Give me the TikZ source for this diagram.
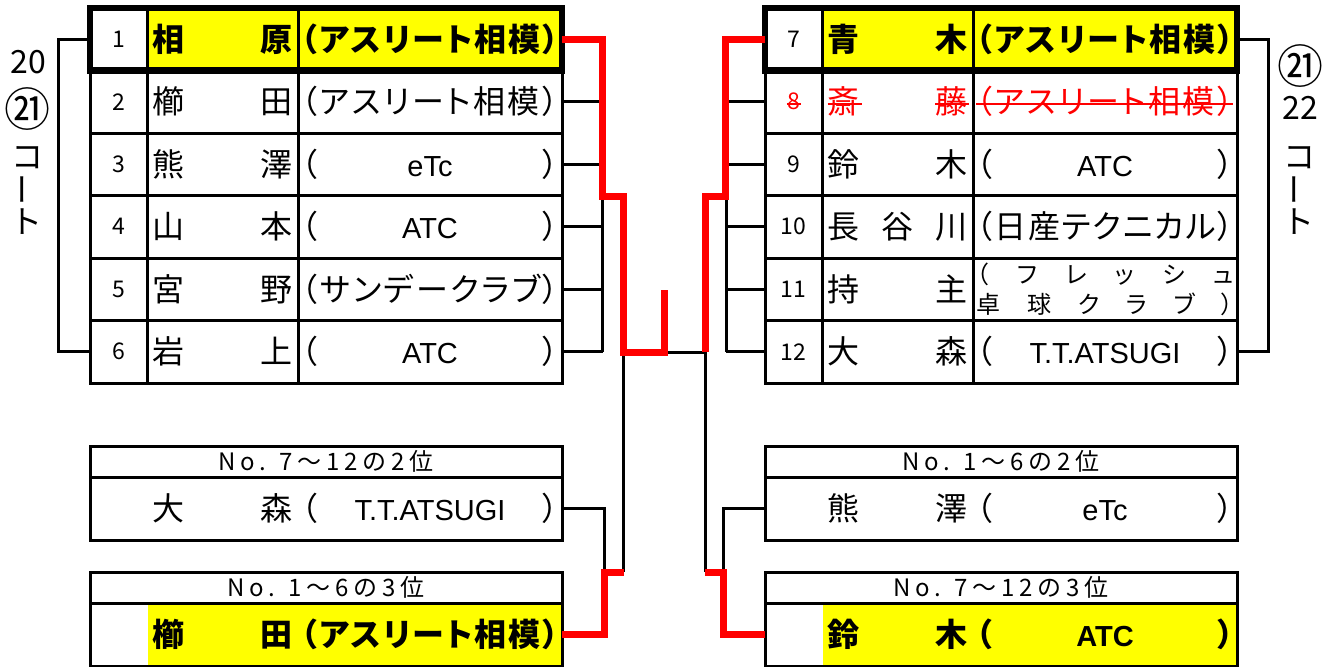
\documentclass[tikz,border=0pt]{standalone}
\usepackage{fontspec}
\setmainfont{Liberation Sans}
\newfontfamily\jp[RawFeature=+palt]{Noto Sans CJK JP}
\newfontfamily\jph[LetterSpace=20]{Noto Sans CJK JP}
\newfontfamily\latf{Liberation Sans}
\definecolor{winred}{RGB}{255,0,0}
\definecolor{hlyel}{RGB}{255,255,0}
\newcommand\lt[1]{{\latf\fontsize{29}{32}\selectfont #1}}
\newcommand\nm[1]{{\mdseries\fontsize{23}{24}\selectfont #1}}
\newcommand\asr{（\hfill ア\hfill ス\hfill リ\hfill ー\hfill ト\hfill 相\hfill 模\hfill ）}
% #1 id, #2 x, #3 y, #4 number, #5 name, #6 club, #7 fill style, #8 text style
\newcommand\trow[8]{%
  \node[cell, minimum width=57.5pt, #8] (#1n) at (#2,#3) {\nm{#4}};
  \node[cell, minimum width=150.5pt, #7, #8] (#1a) at (#2+57.5,#3) {\hbox to 140pt{#5}};
  \node[cell, minimum width=264pt, #7, #8] (#1c) at (#2+208,#3) {\hbox to 257pt{#6}};
}
\newcommand\bodytext[2]{\hbox to 472pt{\hskip 62.75pt\hbox to 140pt{#1}\hskip 8.75pt\hbox to 257pt{#2}\hfill}}
\tikzset{
  cell/.style={draw, line width=3pt, anchor=north west, inner sep=0pt, outer sep=0pt,
    minimum height=62.5pt, font=\jp\fontsize{32}{36}\selectfont},
  bcell/.style={font=\jp\bfseries\fontsize{32}{36}\selectfont},
  hl/.style={fill=hlyel},
  hdr/.style={draw, line width=3pt, anchor=north west, inner sep=0pt, outer sep=0pt,
    minimum width=472pt, minimum height=31pt, font=\jph\fontsize{24}{26}\selectfont},
  body/.style={draw, line width=3pt, anchor=north west, inner sep=0pt, outer sep=0pt,
    minimum width=472pt, minimum height=63pt, font=\jp\fontsize{32}{36}\selectfont},
  hlpart/.style={path picture={\fill[hlyel] ([xshift=57.5pt]path picture bounding box.south west) rectangle (path picture bounding box.north east);}},
  thick box/.style={draw, line width=6.5pt},
  conn/.style={draw, line width=3pt},
  win/.style={draw=winred, line width=7pt},
  court/.style={inner sep=0pt, font=\jp\fontsize{32}{36}\selectfont},
  circ/.style={inner sep=0pt, font=\jp\fontsize{46}{48}\selectfont},
  strike/.style={draw=winred, line width=1.6pt}
}
\begin{document}
\begin{tikzpicture}[x=1pt, y=-1pt]
\useasboundingbox (0,0) rectangle (1337,666);

% ---------- left table ----------
\trow{L1}{90}{8}{1}{相\hfill 原}{\asr}{hl}{bcell}
\trow{L2}{90}{70.5}{2}{櫛\hfill 田}{\asr}{}{}
\trow{L3}{90}{133}{3}{熊\hfill 澤}{（\hfill\lt{eTc}\hfill ）}{}{}
\trow{L4}{90}{195.5}{4}{山\hfill 本}{（\hfill\lt{ATC}\hfill ）}{}{}
\trow{L5}{90}{258}{5}{宮\hfill 野}{（\hfill サ\hfill ン\hfill デ\hfill ー\hfill ク\hfill ラ\hfill ブ\hfill ）}{}{}
\trow{L6}{90}{320.5}{6}{岩\hfill 上}{（\hfill\lt{ATC}\hfill ）}{}{}
\draw[thick box] (L1n.north west) rectangle (L1c.south east);

% ---------- right table ----------
\trow{R7}{765}{8}{7}{青\hfill 木}{\asr}{hl}{bcell}
\trow{R8}{765}{70.5}{8}{斎\hfill 藤}{\asr}{}{text=winred}
\trow{R9}{765}{133}{9}{鈴\hfill 木}{（\hfill\lt{ATC}\hfill ）}{}{}
\trow{R10}{765}{195.5}{10}{長\hfill 谷\hfill 川}{（\hfill 日\hfill 産\hfill テ\hfill ク\hfill ニ\hfill カ\hfill ル\hfill ）}{}{}
\trow{R11}{765}{258}{11}{持\hfill 主}{\fontsize{24}{30}\selectfont\vbox{\hbox to 257pt{（\hfill フ\hfill レ\hfill ッ\hfill シ\hfill ュ}\hbox to 257pt{卓\hfill 球\hfill ク\hfill ラ\hfill ブ\hfill ）}}}{}{}
\trow{R12}{765}{320.5}{12}{大\hfill 森}{（\hfill\lt{T.T.ATSUGI}\hfill ）}{}{}
\draw[thick box] (R7n.north west) rectangle (R7c.south east);

% strike-through of withdrawn entry
\draw[strike] ([xshift=-7pt,yshift=-2pt]R8n.center) -- ([xshift=7pt,yshift=-2pt]R8n.center);
\draw[strike] ([xshift=5pt,yshift=-2pt]R8a.west) -- ++(34,0);
\draw[strike] ([xshift=-4pt,yshift=-2pt]R8a.east) -- ++(-34,0);
\draw[strike] ([xshift=3pt,yshift=-2pt]R8c.west) -- ([xshift=-4pt,yshift=-2pt]R8c.east);

% ---------- lower boxes ----------
\node[hdr] (B1h) at (90,446) {No. 7～12の2位};
\node[body] (B1b) at (90,477) {\bodytext{大\hfill 森}{（\hfill\lt{T.T.ATSUGI}\hfill ）}};
\node[hdr] (B2h) at (90,572) {No. 1～6の3位};
\node[body, hlpart, bcell] (B2b) at (90,603) {\bodytext{櫛\hfill 田}{\asr}};

\node[hdr] (B3h) at (765,446) {No. 1～6の2位};
\node[body] (B3b) at (765,477) {\bodytext{熊\hfill 澤}{（\hfill\lt{eTc}\hfill ）}};
\node[hdr] (B4h) at (765,572) {No. 7～12の3位};
\node[body, hlpart, bcell] (B4b) at (765,603) {\bodytext{鈴\hfill 木}{（\hfill\lt{ATC}\hfill ）}};

% ---------- court labels ----------
\node[court] (lc1) at (28,62) {20};
\node[circ] (lc2) at (28,109) {㉑};
\node[court] (lc3) at (28,158) {コ};
\node[court, rotate=90] (lc4) at (28,190) {ー};
\node[court] (lc5) at (28,222) {ト};
\node[circ] (rc1) at (1300,66) {㉑};
\node[court] (rc2) at (1300,108) {22};
\node[court] (rc3) at (1300,158) {コ};
\node[court, rotate=90] (rc4) at (1300,190) {ー};
\node[court] (rc5) at (1300,222) {ト};

% ---------- joint coordinates ----------
\coordinate (lbr) at (58,0);
\coordinate (rbr) at (1268,0);
\coordinate (lj) at (602.5,0);
\coordinate (rj) at (726,0);
\coordinate (la) at (602.5,196);
\coordinate (lb) at (623.5,196);
\coordinate (lc) at (623.5,352);
\coordinate (ld) at (664,352);
\coordinate (le) at (664,290);
\coordinate (ra) at (725,196);
\coordinate (rb) at (705,196);
\coordinate (rc) at (705,352);
\coordinate (lf) at (623.5,572);
\coordinate (lg) at (604,572);
\coordinate (rf) at (705,572);
\coordinate (rg) at (723,572);

% ---------- court brackets ----------
\draw[conn] (L1n.west) -- (L1n.west -| lbr) -- (L6n.west -| lbr) -- (L6n.west);
\draw[conn] (R7c.east) -- (R7c.east -| rbr) -- (R12c.east -| rbr) -- (R12c.east);

% ---------- black connectors ----------
\foreach \r in {2,...,6} \draw[conn] (L\r c.east) -- (L\r c.east -| lj);
\draw[conn] (L2c.east -| lj) -- (L6c.east -| lj);
\foreach \r in {8,...,12} \draw[conn] (R\r n.west) -- (R\r n.west -| rj);
\draw[conn] (R8n.west -| rj) -- (R12n.west -| rj);
\draw[conn] (ld) -- (rc);
\draw[conn] (lc) -- (lf);
\draw[conn] (rc) -- (rf);
\draw[conn] (B1b.east) -| (lg);
\draw[conn] (B3b.west) -| (rg);

% ---------- red winner paths ----------
\draw[win] (L1c.east) -| (la) -- (lb) -- (lc) -- (ld) -- (le);
\draw[win] (R7n.west) -| (ra) -- (rb) -- (rc);
\draw[win] (B2b.east) -| (lg) -- (lf);
\draw[win] (B4b.west) -| (rg) -- (rf);
\end{tikzpicture}
\end{document}
